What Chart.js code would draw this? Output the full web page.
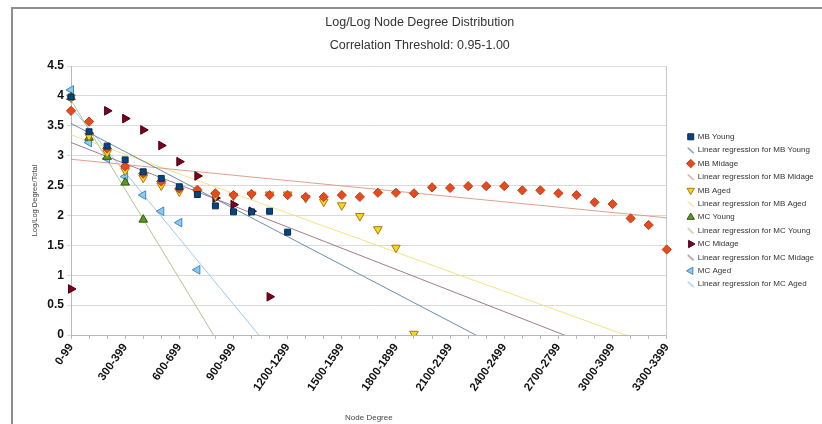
<!DOCTYPE html>
<html>
<head>
<meta charset="utf-8">
<script src="https://cdn.jsdelivr.net/npm/chart.js@4/dist/chart.umd.min.js"></script>
<style>
html,body{margin:0;padding:0;background:#fff;}
#wrap{position:relative;width:822px;height:424px;overflow:hidden;background:#fff;}
#frame{position:absolute;left:11px;top:7px;width:900px;height:500px;border-left:2px solid #8e8e8e;border-top:2px solid #8e8e8e;}
#c{position:absolute;left:0;top:0;}
</style>
</head>
<body>
<div id="wrap"><div id="frame"></div><canvas id="c" width="822" height="424"></canvas></div>
<script>
// ---- data ----
const categories = ["0-99","100-199","200-299","300-399","400-499","500-599","600-699","700-799","800-899","900-999",
  "1000-1099","1100-1199","1200-1299","1300-1399","1400-1499","1500-1599","1600-1699","1700-1799","1800-1899","1900-1999",
  "2000-2099","2100-2199","2200-2299","2300-2399","2400-2499","2500-2599","2600-2699","2700-2799","2800-2899","2900-2999",
  "3000-3099","3100-3199","3200-3299","3300-3399"];

const mbYoung  = [3.98,3.40,3.16,2.93,2.73,2.62,2.48,2.35,2.16,2.06,2.06,2.07,1.72];
const mbMidage = [3.75,3.57,3.12,2.82,2.70,2.57,2.45,2.43,2.37,2.34,2.36,2.34,2.34,2.31,2.31,2.34,2.31,2.38,2.38,2.37,
                  2.47,2.46,2.49,2.49,2.49,2.42,2.42,2.37,2.34,2.22,2.19,1.95,1.84,1.43];
const mbAged   = [3.97,3.33,3.05,2.75,2.63,2.50,2.40,2.38,2.33,2.33,2.35,2.35,2.35,2.29,2.23,2.17,1.99,1.77,1.46,0.02];
const mcYoung  = [3.98,3.30,2.98,2.55,1.93];
const mcMidage = [0.77,3.37,3.75,3.62,3.43,3.17,2.90,2.66,2.29,2.18,2.07,0.64];
const mcAged   = [4.10,3.22,2.95,2.65,2.34,2.07,1.88,1.09];

const seriesNames = ["MB Young","MB Midage","MB Aged","MC Young","MC Midage","MC Aged"];
// regression line values at the first and last category
const regStart = [3.54, 2.94, 3.35, 3.93, 3.22, 3.82];
const regEnd   = [-1.67, 1.96, -0.25, -12.5, -0.67, -8.3];

const yTicks = {min:0, max:4.5, step:0.5};

// ---- styles ----
const colors  = ["#004586","#e8491d","#ffd320","#579d1c","#7e0021","#83caff"];
const borders = ["#0b2a4d","#b8421e","#a67a14","#2f5a10","#4a0013","#4f86b0"];
const regColors = ["rgba(90,130,160,0.9)","rgba(222,150,125,0.9)","rgba(240,225,130,0.95)","rgba(170,190,130,0.9)","rgba(150,110,130,0.9)","rgba(150,200,235,0.95)"];
const shapes = [
  {pointStyle:'rect', rotation:0, radius:4.2},
  {pointStyle:'rectRot', rotation:0, radius:4.6},
  {pointStyle:'triangle', rotation:180, radius:5},
  {pointStyle:'triangle', rotation:0, radius:5},
  {pointStyle:'triangle', rotation:90, radius:5},
  {pointStyle:'triangle', rotation:270, radius:5}
];
const seriesData = [mbYoung, mbMidage, mbAged, mcYoung, mcMidage, mcAged];

function slashIcon(color){
  const cv = document.createElement('canvas');
  cv.width = 8; cv.height = 8;
  const g = cv.getContext('2d');
  g.strokeStyle = color; g.lineWidth = 1.2;
  g.beginPath(); g.moveTo(1,1.5); g.lineTo(7,7); g.stroke();
  return cv;
}

const datasets = [];
seriesNames.forEach((name, i) => {
  datasets.push({
    label: name,
    data: seriesData[i],
    showLine: false,
    backgroundColor: colors[i],
    borderColor: borders[i],
    borderWidth: 1,
    pointStyle: shapes[i].pointStyle,
    rotation: shapes[i].rotation,
    pointRadius: shapes[i].radius,
    pointHoverRadius: shapes[i].radius,
    order: 0
  });
  datasets.push({
    label: 'Linear regression for ' + name,
    data: [{x: categories[0], y: regStart[i]}, {x: categories[categories.length-1], y: regEnd[i]}],
    showLine: true,
    borderColor: regColors[i],
    backgroundColor: regColors[i],
    borderWidth: 1,
    pointRadius: 0,
    pointHoverRadius: 0,
    pointStyle: slashIcon(regColors[i]),
    tension: 0,
    fill: false,
    order: 1
  });
});

const FONT = "'Liberation Sans', Arial, sans-serif";
const PAD_L = 26;

const chart = new Chart(document.getElementById('c'), {
  type: 'line',
  data: { labels: categories, datasets },
  options: {
    responsive: false,
    animation: false,
    devicePixelRatio: 1,
    layout: { padding: { left: PAD_L, right: 4, top: 0, bottom: 0 } },
    plugins: {
      title: {
        display: true,
        text: 'Log/Log Node Degree Distribution',
        color: '#333',
        font: { family: FONT, size: 12.5, weight: 'normal' },
        padding: { top: 15, bottom: 4 }
      },
      subtitle: {
        display: true,
        text: 'Correlation Threshold: 0.95-1.00',
        color: '#333',
        font: { family: FONT, size: 12.5, weight: 'normal' },
        padding: { top: 4, bottom: 13 }
      },
      legend: {
        display: true,
        position: 'right',
        align: 'start',
        title: { display: true, text: ' ', font: { size: 2 }, padding: { top: 0, bottom: 125 } },
        labels: {
          usePointStyle: true,
          boxWidth: 6,
          boxHeight: 6,
          padding: 5.4,
          color: '#333',
          font: { family: FONT, size: 8 },
          sort: (a, b) => a.datasetIndex - b.datasetIndex
        }
      },
      tooltip: { enabled: false }
    },
    scales: {
      x: {
        type: 'category',
        offset: false,
        grid: { display: true, drawOnChartArea: false, drawTicks: true, tickLength: 4, color: '#b8b8b8' },
        border: { display: true, color: '#b8b8b8' },
        ticks: {
          autoSkip: false, maxRotation: 55, minRotation: 55, padding: 2,
          color: '#111',
          font: { family: FONT, size: 11.5, weight: 'bold' },
          callback: function(v, idx){ return idx % 3 === 0 ? this.getLabelForValue(v) : ''; }
        },
        title: { display: true, text: 'Node Degree', color: '#444', font: { family: FONT, size: 8 }, padding: { top: 0, bottom: 1 } },
        afterFit: s => { s.height = 89; }
      },
      y: {
        min: yTicks.min, max: yTicks.max,
        grid: { color: '#dadada', tickLength: 4, lineWidth: 1 },
        border: { display: true, color: '#b8b8b8' },
        ticks: {
          stepSize: yTicks.step, color: '#111', padding: 3,
          font: { family: FONT, size: 12, weight: 'bold' },
          callback: v => String(Math.round(v * 10) / 10)
        },
        title: { display: true, text: 'Log/Log Degree/Total', color: '#444', font: { family: FONT, size: 7.5 }, padding: { top: 4, bottom: 2 } },
        afterFit: s => { s.width = 71 - PAD_L; }
      },
      yR: {
        position: 'right',
        min: yTicks.min, max: yTicks.max,
        grid: { display: false, drawTicks: false },
        border: { display: true, color: '#c8c8c8' },
        ticks: { display: false },
        afterFit: s => { s.width = 15.6; }
      }
    }
  }
});

// tune right padding so the plot area ends where the reference's does
const extra = 822 - 666 - 15.6 - chart.legend.width;
chart.options.layout.padding.right = Math.max(0, extra);
chart.update();
</script>
</body>
</html>
